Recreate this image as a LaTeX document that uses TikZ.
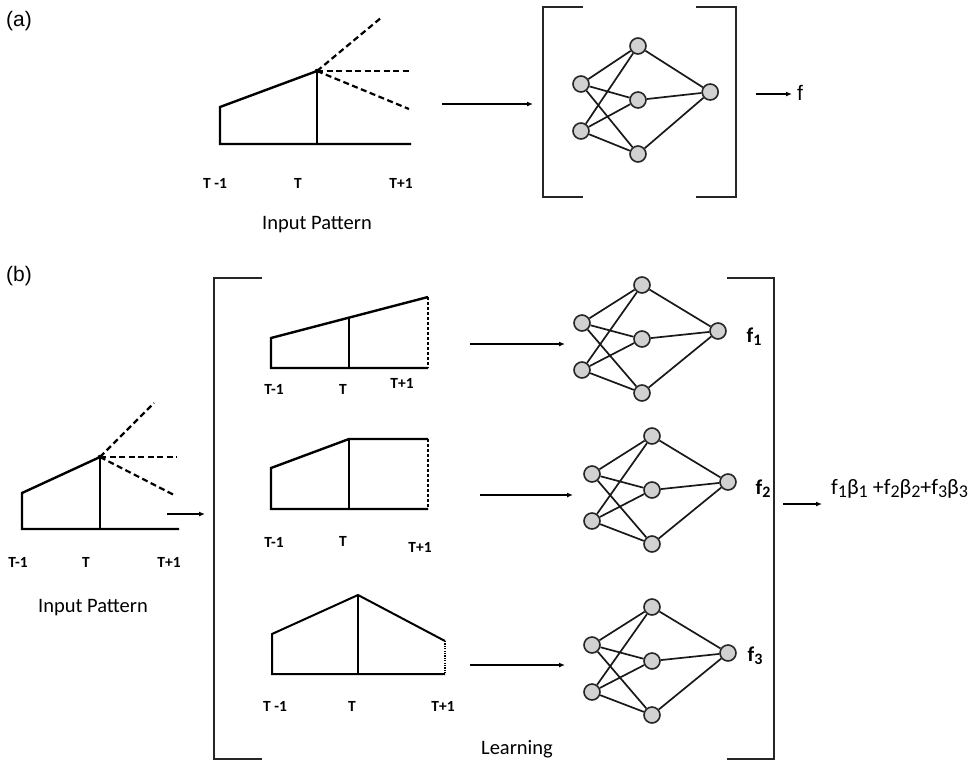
\documentclass[tikz,border=0pt]{standalone}
\usepackage{fontspec}
\setmainfont{Carlito}
\newfontfamily\arialf{Liberation Sans}
\usetikzlibrary{arrows.meta}
\newcommand\sbA[1]{\raisebox{-0.3ex}{\fontsize{16}{16}\selectfont #1}}
\newcommand\sbB[1]{\raisebox{-0.3ex}{\fontsize{18}{18}\selectfont #1}}
\newcommand\nnet[4]{%
\begin{scope}[shift={(#2,#3)}, xscale=#4]
\node[neuron] (#1i1) at (0,0) {};
\node[neuron] (#1i2) at (0,47) {};
\node[neuron] (#1h1) at (60,-38) {};
\node[neuron] (#1h2) at (60,16) {};
\node[neuron] (#1h3) at (60,70) {};
\node[neuron] (#1o) at (136,8) {};
\end{scope}
\foreach \i in {1,2}{\foreach \h in {1,2,3}{\draw[syn] (#1i\i) -- (#1h\h);}}
\foreach \h in {1,2,3}{\draw[syn] (#1h\h) -- (#1o);}
}
\begin{document}
\begin{tikzpicture}[x=1pt,y=-1pt,
  patt/.style={line width=2.4pt, line join=miter},
  thinpatt/.style={line width=2pt, line join=miter},
  dsh/.style={line width=2.2pt, dash pattern=on 6pt off 3.5pt},
  brk/.style={line width=2.6pt, black!85},
  neuron/.style={circle, draw=black!85, line width=1.6pt, fill=black!18, minimum size=16pt, inner sep=0pt},
  syn/.style={line width=1.7pt, black!90},
  arr/.style={line width=1.5pt, -{Latex[length=6pt,width=5pt]}},
  tlab/.style={font=\fontsize{15.5}{15.5}\selectfont\bfseries, inner sep=0pt},
  captxt/.style={font=\fontsize{20.5}{20.5}\selectfont, inner sep=0pt},
  plab/.style={font=\arialf\fontsize{21}{21}\selectfont, inner sep=0pt, anchor=west},
  flab/.style={font=\fontsize{21}{21}\selectfont\bfseries, inner sep=0pt},
]
\useasboundingbox (0,0) rectangle (969,764);
\fill[white] (0,0) rectangle (969,764);

% ---------- (a) ----------
\node[plab] (la) at (6,21) {(a)};
\draw[patt] (317,71) -- (220,107) -- (220,144) -- (411,144);
\draw[patt] (317,71) -- (317,144);
\draw[dsh] (317,71) -- (382,17);
\draw[dsh] (317,71) -- (409,71);
\draw[dsh] (317,71) -- (409,109);
\fill (317,71) circle (2.3pt);
\node[tlab] (a1) at (215,183) {T -1};
\node[tlab] (a2) at (298,183) {T};
\node[tlab] (a3) at (401,183) {T+1};
\node[captxt] (aip) at (317,225) {Input Pattern};

\coordinate (aA1) at (442,104);
\coordinate (aA2) at (533,104);
\draw[arr] (aA1) -- (aA2);
\draw[brk] (583,7) -| (543,197) -- (583,197);
\draw[brk] (696,7) -| (736,197) -- (696,197);
\nnet{a}{581}{84}{0.95}
\coordinate (aF1) at (756,94);
\coordinate (aF2) at (792,94);
\draw[arr] (aF1) -- (aF2);
\node[plab] (fa) at (797,93) {f};

% ---------- (b) ----------
\node[plab] (lb) at (6,276) {(b)};
\draw[patt] (100,457) -- (22,493) -- (22,529) -- (179,529);
\draw[patt] (100,457) -- (100,529);
\draw[dsh] (100,457) -- (154,403);
\draw[dsh] (100,457) -- (177,457);
\draw[dsh] (100,457) -- (176,496);
\fill (100,457) circle (2.3pt);
\node[tlab] (b1) at (18,562) {T-1};
\node[tlab] (b2) at (86,562) {T};
\node[tlab] (b3) at (169,562) {T+1};
\node[captxt] (bip) at (93,608) {Input Pattern};
\coordinate (bA1) at (167,514);
\coordinate (bA2) at (205,514);
\draw[arr] (bA1) -- (bA2);

\draw[brk] (262,278) -| (214,759) -- (262,759);
\draw[brk] (727,278) -| (774,759) -- (727,759);

% pattern 1
\draw[patt] (428,297) -- (271,338) -- (271,368) -- (428,368);
\draw[patt] (349,318) -- (349,368);
\draw[line width=2.4pt, dash pattern=on 3pt off 2pt] (428,297) -- (428,368);
\node[tlab] (p11) at (274,389) {T-1};
\node[tlab] (p12) at (343,389) {T};
\node[tlab] (p13) at (402,383) {T+1};
% pattern 2
\draw[patt] (428,439) -- (349,439) -- (271,468) -- (271,509) -- (428,509);
\draw[patt] (349,439) -- (349,509);
\draw[line width=2.4pt, dash pattern=on 3pt off 2pt] (428,439) -- (428,509);
\node[tlab] (p21) at (274,542) {T-1};
\node[tlab] (p22) at (343,541) {T};
\node[tlab] (p23) at (420,547) {T+1};
% pattern 3
\draw[thinpatt] (445,641) -- (358,595) -- (272,634) -- (272,674) -- (445,674);
\draw[thinpatt] (358,595) -- (358,674);
\draw[line width=2pt, dash pattern=on 1.2pt off 1.2pt] (445,641) -- (445,674);
\node[tlab] (p31) at (275,706) {T -1};
\node[tlab] (p32) at (352,706) {T};
\node[tlab] (p33) at (443,706) {T+1};
\node[captxt] (learn) at (517,749) {Learning};

% arrows to networks
\coordinate (c1s) at (470,344); \coordinate (c1e) at (565,344);
\coordinate (c2s) at (480,495); \coordinate (c2e) at (573,495);
\coordinate (c3s) at (470,665); \coordinate (c3e) at (565,665);
\draw[arr] (c1s) -- (c1e);
\draw[arr] (c2s) -- (c2e);
\draw[arr] (c3s) -- (c3e);

\nnet{n1}{582}{323}{1}
\nnet{n2}{592}{474}{1}
\nnet{n3}{592}{645}{1}
\node[flab] (f1) at (754,337) {f\sbA{1}};
\node[flab] (f2) at (763,489) {f\sbA{2}};
\node[flab] (f3) at (755,656) {f\sbA{3}};

\coordinate (fs) at (783,504);
\coordinate (fe) at (822,504);
\draw[arr] (fs) -- (fe);
\node[inner sep=0pt, anchor=west, font=\fontsize{22}{22}\selectfont] (form) at (831,489)
  {f\sbB{1}β\sbB{1} +f\sbB{2}β\sbB{2}+f\sbB{3}β\sbB{3}};
\end{tikzpicture}
\end{document}
